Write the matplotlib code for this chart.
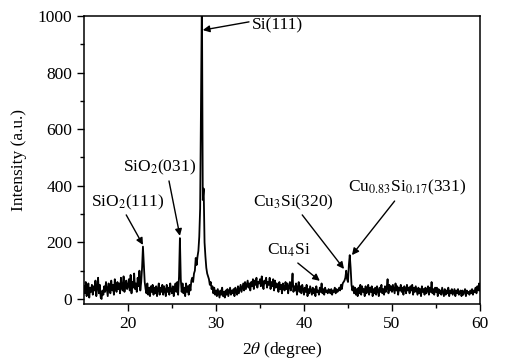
import numpy as np
import matplotlib
matplotlib.use("Agg")
import matplotlib.pyplot as plt

plt.rcParams['font.family'] = ['Liberation Serif', 'DejaVu Serif']
plt.rcParams['mathtext.fontset'] = 'stix'
plt.rcParams['font.size'] = 12.5

# XRD pattern, 2theta from 15 to 60 deg in 0.1 deg steps (one row per degree)
two_theta = np.round(np.arange(15.0, 60.05, 0.1), 1)
intensity = [
    45, 20, 60, 10, 35, 55, 5, 40, 25, 50,        # 15
    15, 45, 30, 65, 10, 40, 75, 20, 50, 5,        # 16
    0, 30, 15, 45, 25, 60, 35, 10, 55, 40,        # 17
    20, 65, 30, 50, 15, 70, 40, 25, 60, 35,       # 18
    55, 20, 75, 40, 30, 80, 25, 50, 65, 35,       # 19
    45, 70, 30, 85, 20, 60, 40, 90, 35, 55,       # 20
    25, 75, 45, 100, 30, 60, 110, 185, 120, 60,   # 21
    35, 20, 55, 15, 40, 10, 45, 25, 50, 15,       # 22
    40, 20, 45, 10, 35, 55, 15, 40, 25, 50,       # 23
    15, 45, 30, 10, 50, 25, 40, 15, 55, 30,       # 24
    20, 45, 10, 35, 55, 25, 60, 15, 80, 215,      # 25
    70, 25, 55, 20, 40, 10, 55, 25, 45, 15,       # 26
    50, 30, 65, 75, 60, 90, 100, 145, 120, 150,   # 27
    170, 220, 320, 700, 1080, 350, 390, 200, 150, 110,  # 28
    90, 80, 70, 50, 60, 35, 45, 20, 40, 15,       # 29
    30, 10, 35, 20, 5, 30, 15, 40, 10, 25,        # 30
    5, 30, 15, 35, 10, 25, 40, 15, 30, 20,        # 31
    35, 10, 40, 25, 15, 45, 20, 35, 50, 25,       # 32
    40, 55, 30, 60, 35, 50, 65, 40, 55, 30,       # 33
    60, 45, 70, 35, 65, 50, 75, 40, 60, 55,       # 34
    70, 45, 80, 50, 35, 65, 55, 75, 40, 60,       # 35
    50, 75, 35, 60, 45, 70, 30, 65, 40, 55,       # 36
    45, 25, 60, 35, 50, 20, 55, 40, 30, 60,       # 37
    35, 55, 20, 45, 60, 30, 50, 90, 25, 45,       # 38
    30, 55, 15, 40, 60, 25, 45, 20, 50, 35,       # 39
    15, 40, 25, 50, 10, 35, 20, 45, 30, 15,       # 40
    40, 20, 35, 10, 45, 25, 30, 15, 40, 25,       # 41
    55, 20, 35, 15, 40, 25, 30, 20, 35, 25,       # 42
    20, 35, 15, 30, 25, 40, 20, 35, 25, 30,       # 43
    40, 30, 50, 35, 55, 60, 65, 75, 100, 70,      # 44
    60, 120, 155, 110, 50, 30, 45, 20, 40, 15,    # 45
    35, 10, 40, 20, 50, 15, 45, 25, 35, 10,       # 46
    45, 20, 30, 50, 15, 40, 25, 45, 10, 35,       # 47
    20, 40, 15, 45, 30, 10, 40, 25, 50, 20,       # 48
    35, 15, 45, 25, 40, 70, 20, 50, 30, 45,       # 49
    25, 50, 35, 20, 55, 30, 45, 15, 40, 30,       # 50
    50, 25, 40, 15, 45, 35, 20, 50, 30, 40,       # 51
    20, 45, 30, 50, 15, 40, 25, 45, 30, 15,       # 52
    40, 20, 35, 10, 45, 25, 35, 15, 40, 20,       # 53
    30, 45, 15, 40, 25, 60, 20, 35, 15, 40,       # 54
    25, 40, 10, 35, 20, 30, 15, 40, 25, 10,       # 55
    35, 15, 30, 20, 40, 10, 30, 20, 35, 15,       # 56
    25, 35, 10, 30, 20, 35, 15, 25, 30, 10,       # 57
    30, 15, 25, 35, 10, 30, 20, 25, 15, 30,       # 58
    20, 35, 15, 30, 25, 40, 20, 45, 30, 55,       # 59
    30,                                           # 60
]

# peak labels: text, text position, arrow tail, arrow head
labels = ['Si(111)', 'SiO$_2$(031)', 'SiO$_2$(111)', 'Cu$_3$Si(320)',
          'Cu$_4$Si', 'Cu$_{0.83}$Si$_{0.17}$(331)']
text_pos = [(34.1, 965), (23.6, 466), (19.9, 343), (38.8, 343),
            (38.3, 173), (51.7, 396)]
text_ha = ['left', 'center', 'center', 'center', 'center', 'center']
arrow_tail = [(33.75, 979), (24.66, 417), (19.8, 297), (39.8, 297),
              (39.3, 127), (50.3, 346)]
arrow_head = [(28.5, 950), (25.9, 223), (21.7, 191), (44.55, 106),
              (41.8, 64), (45.45, 155)]

fig = plt.figure(figsize=(5.09, 3.62), dpi=100)
ax = fig.add_axes([0.165, 0.160, 0.778, 0.796])

ax.plot(two_theta, intensity, color='black', lw=1.3)

for lab, pos, ha in zip(labels, text_pos, text_ha):
    ax.text(pos[0], pos[1], lab, ha=ha, va='center')
for tail, head in zip(arrow_tail, arrow_head):
    ax.annotate('', xy=head, xytext=tail,
                arrowprops=dict(arrowstyle='-|>', color='black', lw=1.0,
                                mutation_scale=10, shrinkA=0, shrinkB=0))

ax.set_xlim(15, 60)
ax.set_ylim(-18, 1000)
ax.set_xticks([20, 30, 40, 50, 60])
ax.set_xticks([25, 35, 45, 55], minor=True)
ax.set_yticks([0, 200, 400, 600, 800, 1000])
ax.set_yticks([100, 300, 500, 700, 900], minor=True)
ax.tick_params(which='major', direction='out', length=5, width=1, top=False, right=False)
ax.tick_params(which='minor', direction='out', length=3, width=1, top=False, right=False)
for s in ax.spines.values():
    s.set_linewidth(1.1)

ax.set_xlabel(r'2$\theta$ (degree)')
ax.set_ylabel('Intensity (a.u.)')
ax.xaxis.set_label_coords(0.5, -0.125)
ax.yaxis.set_label_coords(-0.145, 0.5)

fig.savefig('out.png', dpi=100)
